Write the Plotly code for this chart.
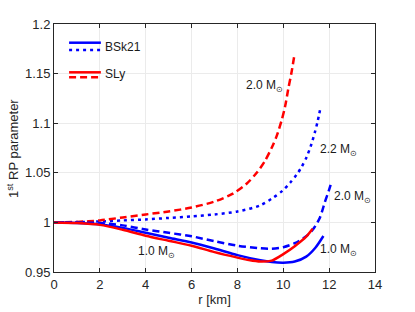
import plotly.graph_objects as go

# BSk21 1.0 Msun (solid blue)
r_bsk_10 = [0, 1, 2, 3, 4, 5, 6, 7, 8, 9, 9.5, 10, 10.5, 11, 11.4, 11.75]
p_bsk_10 = [1.0, 0.9995, 0.998, 0.9945, 0.9895, 0.9845, 0.9798, 0.9737, 0.967, 0.9618, 0.9600, 0.9593, 0.9605, 0.9655, 0.9745, 0.9863]

# SLy 1.0 Msun (solid red)
r_sly_10 = [0, 1, 2, 3, 4, 5, 6, 7, 8, 8.5, 9, 9.5, 10, 10.5, 11, 11.28]
p_sly_10 = [1.0, 0.9993, 0.9975, 0.9925, 0.9865, 0.9815, 0.9765, 0.970, 0.9645, 0.962, 0.9605, 0.9615, 0.968, 0.976, 0.9856, 0.9935]

# BSk21 2.0 Msun (dashed blue)
r_bsk_20 = [0, 1, 2, 3, 4, 5, 6, 7, 8, 9, 9.5, 10, 10.5, 11, 11.3, 11.6, 11.82, 12.0, 12.08]
p_bsk_20 = [1.0, 0.9998, 0.9993, 0.997, 0.9928, 0.9895, 0.986, 0.981, 0.9765, 0.9740, 0.9735, 0.9750, 0.979, 0.986, 0.993, 1.005, 1.021, 1.033, 1.039]

# BSk21 2.2 Msun (dotted blue)
r_bsk_22 = [0, 1, 2, 3, 4, 5, 6, 7, 8, 8.98, 9.56, 9.97, 10.3, 10.58, 10.8, 11.02, 11.2, 11.38, 11.5, 11.6]
p_bsk_22 = [1.0, 1.0003, 1.001, 1.002, 1.003, 1.0045, 1.006, 1.008, 1.011, 1.017, 1.025, 1.032, 1.040, 1.048, 1.056, 1.066, 1.077, 1.091, 1.102, 1.113]

# SLy 2.0 Msun (dashed red)
r_sly_20 = [0, 1, 2, 3, 4, 5, 6, 7, 7.8, 8.4, 8.84, 9.2, 9.49, 9.71, 9.93, 10.08, 10.22, 10.35, 10.48]
p_sly_20 = [1.0, 1.0005, 1.002, 1.005, 1.008, 1.011, 1.015, 1.021, 1.029, 1.039, 1.050, 1.062, 1.075, 1.087, 1.103, 1.117, 1.135, 1.150, 1.168]

x_ticks = [0, 2, 4, 6, 8, 10, 12, 14]
y_ticks = [0.95, 1.0, 1.05, 1.1, 1.15, 1.2]
y_tick_labels = ["0.95", "1", "1.05", "1.1", "1.15", "1.2"]

# mass labels: (r, value, text)
label_r = [9.2, 12.39, 13.04, 12.39, 4.49]
label_v = [1.1375, 1.073, 1.0256, 0.9722, 0.970]
label_t = ["2.0 M<sub>⊙</sub>", "2.2 M<sub>⊙</sub>", "2.0 M<sub>⊙</sub>", "1.0 M<sub>⊙</sub>", "1.0 M<sub>⊙</sub>"]

BLUE = "#0000ff"
RED = "#ff0000"
FONT = "Liberation Sans, Arial, Helvetica, sans-serif"
LW = 2.5

fig = go.Figure()
fig.add_trace(go.Scatter(x=r_bsk_22, y=p_bsk_22, mode="lines",
                         line=dict(color=BLUE, width=LW, dash="3px,4px", shape="spline", smoothing=0.8), showlegend=False))
fig.add_trace(go.Scatter(x=r_sly_20, y=p_sly_20, mode="lines",
                         line=dict(color=RED, width=LW, dash="7px,4px", shape="spline", smoothing=0.8), showlegend=False))
fig.add_trace(go.Scatter(x=r_bsk_20, y=p_bsk_20, mode="lines",
                         line=dict(color=BLUE, width=LW, dash="7px,4px", shape="spline", smoothing=0.8), showlegend=False))
fig.add_trace(go.Scatter(x=r_bsk_10, y=p_bsk_10, mode="lines",
                         line=dict(color=BLUE, width=LW, shape="spline", smoothing=0.8), showlegend=False))
fig.add_trace(go.Scatter(x=r_sly_10, y=p_sly_10, mode="lines",
                         line=dict(color=RED, width=LW, shape="spline", smoothing=0.8), showlegend=False))

for xr, yv, t in zip(label_r, label_v, label_t):
    fig.add_annotation(x=xr, y=yv, text=t, showarrow=False,
                       font=dict(size=12, color="#1a1a1a", family=FONT))

# legend (drawn manually: solid line over dotted/dashed line)
leg_x0, leg_x1 = 0.047, 0.146
fig.add_shape(type="line", xref="paper", yref="paper", x0=leg_x0, x1=leg_x1, y0=0.9246, y1=0.9246,
              line=dict(color=BLUE, width=LW))
fig.add_shape(type="line", xref="paper", yref="paper", x0=leg_x0, x1=leg_x1, y0=0.8952, y1=0.8952,
              line=dict(color=BLUE, width=LW, dash="3px,4px"))
fig.add_shape(type="line", xref="paper", yref="paper", x0=leg_x0, x1=leg_x1, y0=0.8052, y1=0.8052,
              line=dict(color=RED, width=LW))
fig.add_shape(type="line", xref="paper", yref="paper", x0=leg_x0, x1=leg_x1, y0=0.7851, y1=0.7851,
              line=dict(color=RED, width=LW, dash="7px,4px"))
fig.add_annotation(xref="paper", yref="paper", x=0.152, y=0.906, text="BSk21", showarrow=False,
                   xanchor="left", yanchor="middle", font=dict(size=12, color="#1a1a1a", family=FONT))
fig.add_annotation(xref="paper", yref="paper", x=0.152, y=0.797, text="SLy", showarrow=False,
                   xanchor="left", yanchor="middle", font=dict(size=12, color="#1a1a1a", family=FONT))

# y-axis title as rotated annotation (placed like the reference)
fig.add_annotation(xref="paper", yref="paper", x=-0.128, y=0.5, text="1<sup>st</sup> RP parameter",
                   textangle=-90, showarrow=False, xanchor="center", yanchor="middle",
                   font=dict(size=13, color="#262626", family=FONT))

axis_common = dict(showline=True, linecolor="#262626", linewidth=1, mirror="ticks",
                   ticks="inside", ticklen=4, tickcolor="#262626", automargin=False,
                   showgrid=True, gridcolor="#ebebeb", gridwidth=1, zeroline=False,
                   tickfont=dict(size=13, color="#262626", family=FONT))

fig.update_xaxes(range=[0, 14], tickvals=x_ticks, ticktext=[str(v) for v in x_ticks],
                 title=dict(text="r [km]", font=dict(size=13, color="#262626", family=FONT), standoff=4),
                 **axis_common)
fig.update_yaxes(range=[0.95, 1.2], tickvals=y_ticks, ticktext=y_tick_labels, **axis_common)

fig.update_layout(width=415, height=312, margin=dict(l=54, r=40, t=24, b=40, autoexpand=False),
                  plot_bgcolor="white", paper_bgcolor="white",
                  font=dict(family=FONT), showlegend=False)

fig.write_html("out.html", config={"displayModeBar": False},
               post_script="document.body.style.margin='0';document.body.style.overflow='hidden';")
